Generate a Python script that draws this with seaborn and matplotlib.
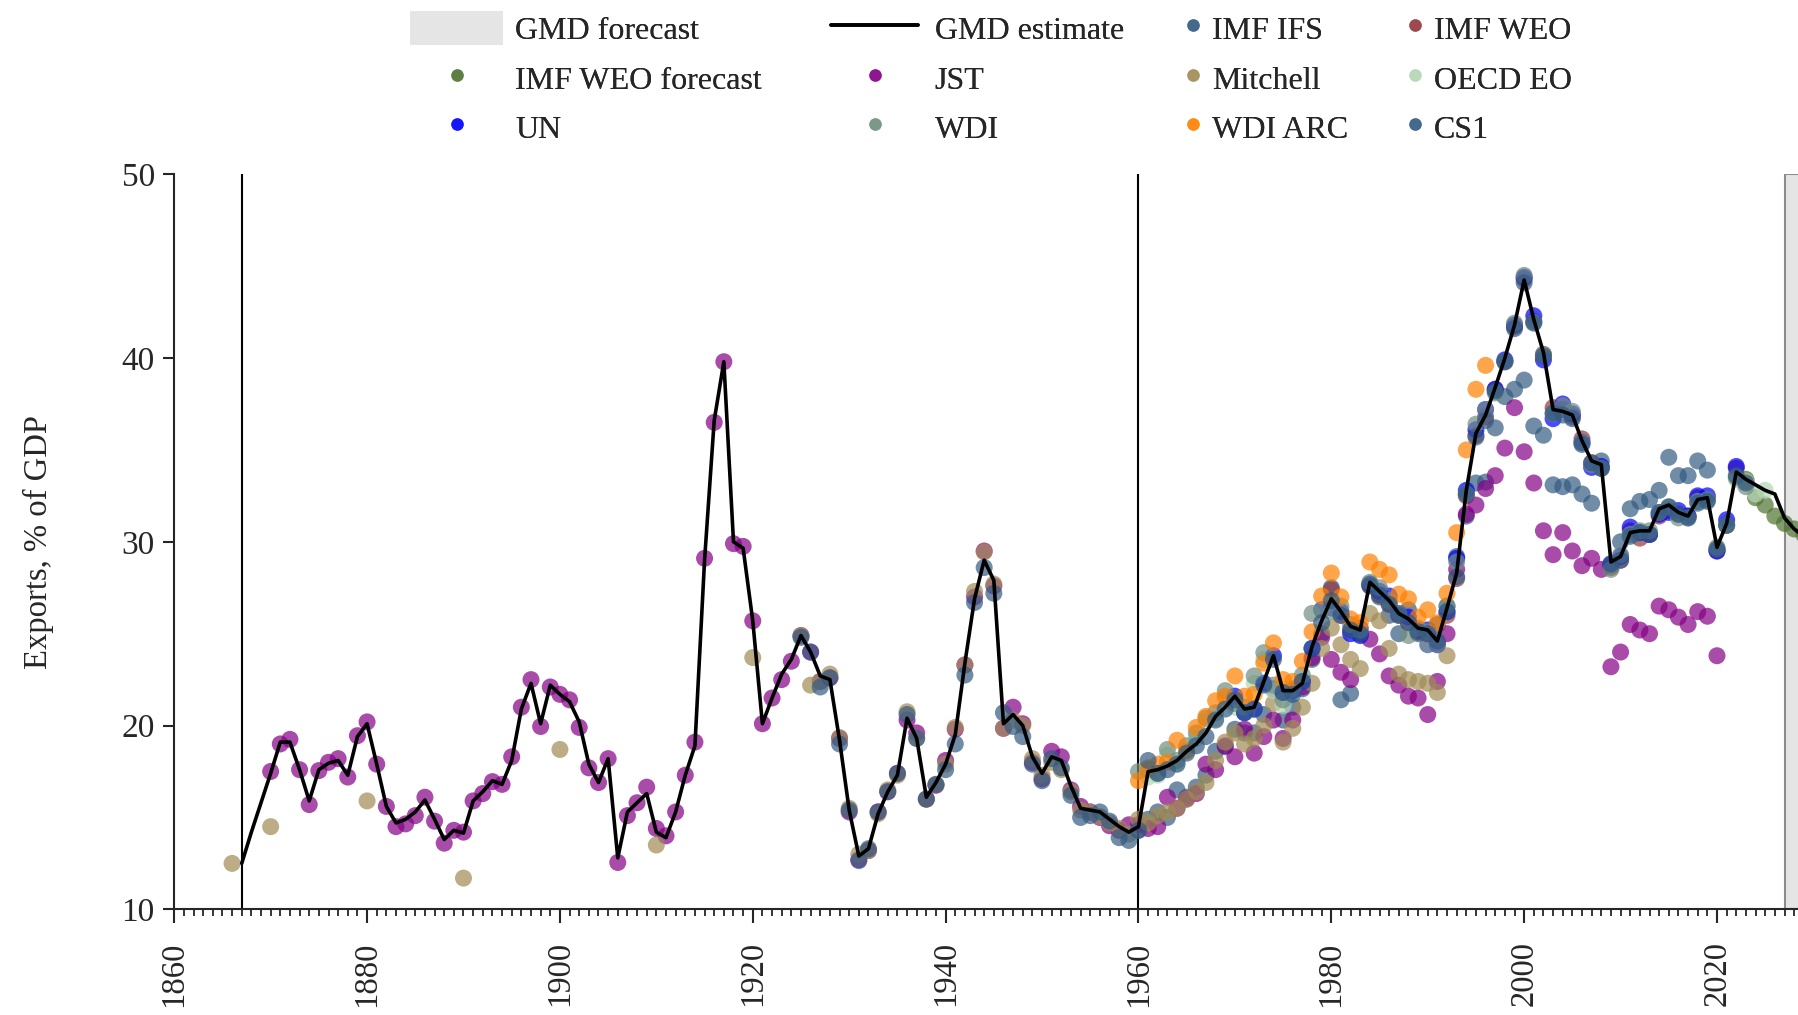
import numpy as np
import pandas as pd
import seaborn as sns
import matplotlib.pyplot as plt
from matplotlib.lines import Line2D
from matplotlib.patches import Patch
from matplotlib.ticker import MultipleLocator

# GMD estimate (black line), 1867-2029
gmd_years = list(range(1867, 2030))
gmd_vals = [12.5, 14.2, 15.8,
            17.4, 19.1, 19.1, 17.6, 15.9, 17.6, 17.95, 18.1, 17.3, 19.4,
            20.1, 17.9, 15.6, 14.7, 14.9, 15.3, 15.95, 14.9, 13.8, 14.3,
            14.15, 15.9, 16.4, 17.0, 16.8, 18.1, 20.9, 22.3, 20.1, 22.2,
            21.7, 21.3, 20.2, 17.9, 16.9, 18.2, 12.8, 15.3, 15.8, 16.3,
            14.2, 13.9, 15.3, 17.3, 18.9, 29.0, 36.6, 39.8, 30.0, 29.65,
            25.7, 20.1, 21.5, 22.8, 23.6, 24.9, 24.0, 22.7, 22.5, 19.2,
            15.4, 12.9, 13.3, 15.2, 16.4, 17.3, 20.4, 19.3, 16.1, 16.9,
            17.9, 19.5, 23.4, 26.9, 29.0, 27.9, 20.1, 20.6, 20.0, 18.3,
            17.4, 18.3, 18.1, 16.7, 15.5, 15.4, 15.3, 14.9, 14.5, 14.2,
            14.5, 17.5, 17.6, 17.8, 18.1, 18.6, 19.0, 19.6, 20.5, 21.0,
            21.6, 20.9, 21.0, 22.4, 23.8, 21.9, 21.9, 22.3, 24.3, 25.7,
            26.9, 26.2, 25.4, 25.2, 27.8, 27.3, 26.8, 26.1, 25.8, 25.3,
            25.2, 24.6, 26.4, 28.3, 32.8, 35.9, 36.9, 38.4, 40.0, 41.8,
            44.25, 42.1, 40.3, 37.2, 37.1, 36.9, 35.5, 34.4, 34.2, 28.9,
            29.2, 30.5, 30.6, 30.6, 31.8, 32.0, 31.6, 31.4, 32.3, 32.4,
            29.7, 31.0, 33.8, 33.4, 33.1, 32.8, 32.6, 31.3, 30.7, 30.3]

# IMF IFS
ifs_years = list(range(1960, 2021))
ifs_vals = [14.3, 14.9, 15.3, 15.0, 16.5, 16.1, 16.65, 17.3, 18.6, 18.85,
            19.8, 19.6, 19.6, 20.6, 22.0, 20.3, 21.0, 22.0, 23.6, 25.0,
            27.5, 21.4, 21.75, 25.0, 27.7, 27.0, 26.0, 25.0, 26.3, 25.0,
            24.4, 25.5, 26.5, 29.2, 31.4, 33.2, 33.25, 36.2, 37.9, 38.3,
            38.8, 36.3, 35.8, 33.1, 33.0, 33.1, 32.6, 32.1, 34.4, 28.7,
            30.0, 31.8, 32.2, 32.3, 32.8, 34.6, 33.6, 33.6, 34.4, 33.9,
            29.6]

# IMF WEO
weo_years = list(range(1980, 2024))
weo_vals = [27.4, 26.0, 25.2, 25.0, 27.6, 27.1, 26.6, 26.0, 25.6, 25.1,
            25.0, 24.5, 26.0, 28.0, 32.5, 35.8, 36.8, 38.3, 39.8, 41.7,
            44.3, 42.0, 40.2, 37.3, 37.2, 36.8, 35.6, 34.3, 34.0, 28.6,
            29.0, 30.6, 30.2, 30.4, 31.4, 31.7, 31.5, 31.4, 32.4, 32.3,
            29.5, 30.9, 34.0, 33.3]

# IMF WEO forecast
weof_years = list(range(2023, 2030))
weof_vals = [33.4, 32.4, 32.0, 31.4, 31.0, 30.7, 30.4]

# JST
jst_years = list(range(1870, 2021))
jst_vals = [17.5, 19.0, 19.25, 17.6, 15.7, 17.55, 18.0, 18.2, 17.2, 19.45,
            20.2, 17.9, 15.6, 14.5, 14.65, 15.1, 16.1, 14.8, 13.6, 14.3,
            14.2, 15.9, 16.3, 16.95, 16.8, 18.3, 21.0, 22.5, 19.95, 22.1,
            21.7, 21.4, 19.9, 17.7, 16.9, 18.2, 12.55,
            15.1, 15.8, 16.65, 14.4, 14.0, 15.3, 17.3, 19.1, 29.1, 36.5,
            39.8, 29.9, 29.75, 25.7, 20.1, 21.5, 22.5, 23.5, 24.9, 24.0,
            22.4, 22.6, 19.3, 15.3, 12.7, 13.2, 15.3, 16.4, 17.4, 20.3,
            19.6, 16.0, 16.75, 18.1, 19.8, 23.3, 27.0, 29.5, 27.6,
            19.85, 21.0, 20.1, 18.0, 17.1, 18.6, 18.3, 16.5, 15.6, 15.3,
            15.0, 14.55, 14.3, 14.6, 14.6, 14.4, 14.5, 16.1, 15.5, 16.0,
            16.3, 17.9, 17.6, 18.9, 18.3, 19.8, 18.5, 19.4, 20.3, 19.3,
            20.3, 22.1, 23.7, 24.8, 23.6, 22.9, 22.5, 25.3, 24.7, 23.9,
            22.7, 22.2, 21.6, 21.5, 20.6, 22.4, 25.0, 28.5, 31.5, 32.0,
            32.9, 33.6, 35.1, 37.3, 34.9, 33.2, 30.6, 29.3, 30.5, 29.5,
            28.7, 29.1, 28.5, 23.2, 24.0, 25.5, 25.2, 25.0, 26.5, 26.3,
            25.9, 25.5, 26.2, 25.95, 23.8]

# Mitchell
mitchell_years = [1866, 1870, 1880, 1890, 1900, 1910, 1920] + list(range(1925, 1993))
mitchell_vals = [12.5, 14.5, 15.9, 11.7, 18.7, 13.5, 23.7,
                 24.9, 22.2, 22.4, 22.8, 19.35, 15.5, 13.0, 13.2, 15.2, 16.5,
                 17.3, 20.75, 19.3, 16.0, 16.8, 17.9, 19.9, 23.3, 27.3, 29.45,
                 27.7, 19.85, 20.3, 20.0, 18.2, 17.3, 18.0, 17.6, 16.4, 15.4,
                 15.3, 15.05, 14.7, 14.4, 14.1, 14.9, 14.7, 15.1, 15.3, 15.5,
                 16.0, 16.4, 16.9, 18.1, 19.1, 19.6, 19.0, 19.3, 20.0, 21.2,
                 19.1, 19.85, 21.0, 22.3, 24.2, 25.3, 24.4, 23.6, 23.1, 26.1,
                 25.7, 24.2, 22.8, 22.5, 22.4, 22.3, 21.8, 23.8]

# OECD EO
oecd_years = list(range(1961, 1976)) + list(range(2018, 2026))
oecd_vals = [17.2, 17.3, 18.4, 17.9, 18.6, 19.3, 20.2, 20.4, 21.5, 21.0,
             20.7, 22.3, 23.6, 21.9, 21.1,
             32.2, 32.3, 29.6, 31.0, 33.4, 33.3, 32.6, 32.8]

# UN
un_years = list(range(1970, 2023))
un_vals = [21.6, 20.7, 20.9, 22.3, 23.8, 21.8, 21.9, 22.4, 24.2, 26.3,
           26.4, 26.2, 25.0, 24.9, 27.7, 27.3, 27.05, 26.1, 25.9, 25.2,
           25.2, 24.4, 26.2, 29.1, 32.8, 36.1, 37.2, 38.3, 39.9, 41.8,
           44.4, 42.3, 39.9, 36.7, 37.5, 36.96, 35.4, 34.05, 34.1, 28.8,
           29.2, 30.8, 30.5, 30.4, 31.5, 31.6, 31.7, 31.4, 32.5, 32.5,
           29.5, 31.2, 34.1]

# WDI
wdi_years = list(range(1960, 2024))
wdi_vals = [17.5, 17.6, 17.4, 18.7, 18.1, 18.9, 19.6, 20.4, 20.7, 21.9,
            21.2, 21.0, 22.7, 23.97, 22.2, 21.4, 22.0, 22.75, 26.1, 26.3,
            26.2, 26.5, 25.5, 25.2, 27.8, 27.5, 26.8, 26.1, 24.9, 25.3,
            25.1, 24.4, 26.5, 28.9, 32.6, 36.4, 37.2, 38.1, 39.8, 41.9,
            44.5, 41.95, 40.2, 36.97, 37.4, 37.1, 35.4, 34.2, 34.0, 28.5,
            29.3, 30.4, 30.6, 30.6, 31.6, 31.9, 31.3, 31.3, 32.2, 32.3,
            29.7, 30.9, 33.5, 33.0]

# WDI ARC
arc_years = list(range(1960, 1997))
arc_vals = [17.0, 17.7, 17.9, 18.0, 19.2, 18.65, 19.9, 20.5, 21.35, 21.6,
            22.7, 21.6, 21.7, 23.4, 24.5, 22.5, 22.4, 23.5, 25.1, 27.05,
            28.3, 27.0, 25.8, 25.6, 28.9, 28.5, 28.2, 27.15, 26.9, 25.9,
            26.3, 25.6, 27.2, 30.5, 35.0, 38.3, 39.6]

# CS1
cs1_years = list(range(1925, 2024))
cs1_vals = [24.8, 24.0, 22.1, 22.6, 19.0, 15.4, 12.65, 13.3, 15.3, 16.4,
            17.4, 20.6, 19.3, 16.0, 16.8, 17.6, 19.0, 22.75, 26.7, 28.6,
            27.2, 20.7, 19.95, 19.4, 17.9, 17.0, 18.2, 17.7, 16.2, 15.0,
            15.1, 15.3, 14.8, 13.9, 13.75, 14.3,
            18.1, 17.4, 17.6, 17.9, 18.5, 18.9, 19.4, 20.3, 20.9, 21.4,
            20.7, 20.9, 22.2, 23.6, 21.8, 21.7, 22.4, 24.2, 25.6, 26.8,
            26.0, 25.2, 25.0, 27.6, 27.1, 26.6, 26.0, 25.6, 25.1, 25.0,
            24.6, 26.2, 28.1, 32.6, 35.7, 36.6, 38.2, 39.8, 41.6, 44.1,
            41.9, 40.1, 37.0, 36.9, 36.7, 35.3, 34.3, 34.0, 28.8, 29.0,
            30.3, 30.5, 30.4, 31.6, 31.9, 31.5, 31.3, 32.1, 32.2, 29.6,
            30.9, 33.6, 33.2]

sources = ["IMF IFS", "IMF WEO", "IMF WEO forecast", "JST", "Mitchell",
           "OECD EO", "UN", "WDI", "WDI ARC", "CS1"]
source_data = [(ifs_years, ifs_vals), (weo_years, weo_vals), (weof_years, weof_vals),
               (jst_years, jst_vals), (mitchell_years, mitchell_vals),
               (oecd_years, oecd_vals), (un_years, un_vals), (wdi_years, wdi_vals),
               (arc_years, arc_vals), (cs1_years, cs1_vals)]
colors = {"IMF IFS": "#335b82", "IMF WEO": "#93393c", "IMF WEO forecast": "#4f7330",
          "JST": "#850085", "Mitchell": "#a08b55", "OECD EO": "#b4d6b4",
          "UN": "#0000ff", "WDI": "#6f8f80", "WDI ARC": "#ff7f00", "CS1": "#335b82"}

pts = pd.concat([pd.DataFrame({"year": y, "value": v, "source": s})
                 for s, (y, v) in zip(sources, source_data)], ignore_index=True)
gmd = pd.DataFrame({"year": gmd_years, "value": gmd_vals})

sns.set_style("ticks")
plt.rcParams['font.family'] = ['Liberation Serif', 'DejaVu Serif']

fig = plt.figure(figsize=(17.98, 10.15), dpi=100)
ax = fig.add_axes([0.0969, 0.1041, 0.9031, 0.7242])

ax.axvspan(2027, 2040, facecolor='#e5e5e5', edgecolor='#8c8c8c', lw=1.5, zorder=0)
ax.axvline(1867, color='black', lw=1.5, zorder=1)
ax.axvline(1960, color='black', lw=1.5, zorder=1)

sns.scatterplot(data=pts, x="year", y="value", hue="source", palette=colors,
                s=150, alpha=0.7, edgecolor='none', linewidth=0, legend=False,
                ax=ax, zorder=2)
sns.lineplot(data=gmd, x="year", y="value", color='black', lw=2.6, ax=ax, zorder=3)

ax.set_xlim(1860, 2028.4)
ax.set_ylim(10, 50)
ax.set_xticks(range(1860, 2021, 20))
ax.xaxis.set_minor_locator(MultipleLocator(1))
ax.set_yticks([10, 20, 30, 40, 50])
ax.tick_params(axis='x', which='major', labelrotation=90, labelsize=23.5,
               length=10, width=1.5, pad=13)
ax.tick_params(axis='x', which='minor', length=5, width=1.3)
ax.tick_params(axis='y', labelsize=24, length=8, width=1.5, pad=6)
for sp in ['left', 'bottom']:
    ax.spines[sp].set_linewidth(1.5)
sns.despine(ax=ax)
ax.set_xlabel("")
ax.set_ylabel("Exports, % of GDP", fontsize=23.5)
ax.yaxis.set_label_coords(-0.074, 0.5)

def dot(name):
    return Line2D([], [], ls='none', marker='o', markersize=9, alpha=0.7,
                  markerfacecolor=colors[name], markeredgecolor='none', label=name)

h_fc = Patch(facecolor='#e5e5e5', edgecolor='none', label='GMD forecast')
h_est = Line2D([], [], color='black', lw=2.6, label='GMD estimate')
legend_cols = [
    ([h_fc, dot("IMF WEO forecast"), dot("UN")], 0.2283, 2.9, 0.37),
    ([h_est, dot("JST"), dot("WDI")], 0.4624, 2.7, 0.53),
    ([dot("IMF IFS"), dot("Mitchell"), dot("WDI ARC")], 0.6589, 0.5, 0.36),
    ([dot("IMF WEO"), dot("OECD EO"), dot("CS1")], 0.7826, 0.5, 0.33),
]
for hs, x0, hl, hp in legend_cols:
    leg = fig.legend(handles=hs, ncol=1, loc='upper left', bbox_to_anchor=(x0, 0.9889),
                     frameon=False, fontsize=23, handlelength=hl, handleheight=1.25,
                     handletextpad=hp, labelspacing=0.47, borderpad=0, borderaxespad=0)
    fig.add_artist(leg)

fig.savefig("out.png", dpi=100)
